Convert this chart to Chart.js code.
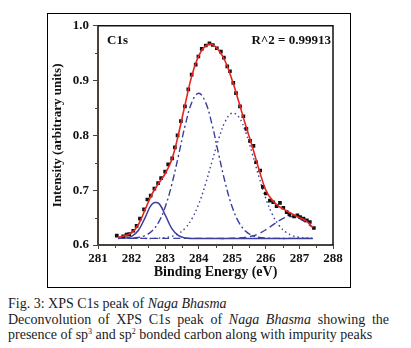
<!DOCTYPE html>
<html>
<head>
<meta charset="utf-8">
<script src="https://cdn.jsdelivr.net/npm/chart.js@4.4.1/dist/chart.umd.min.js"></script>
<style>
  body { margin: 0; background: #fff; width: 411px; height: 348px; position: relative; overflow: hidden; }
  #frame { position: absolute; left: 47px; top: 13px; width: 304px; height: 275px; border: 1px solid #000; box-sizing: border-box; }
  #frame canvas { display: block; }
  .caption { position: absolute; left: 8px; width: 381px; font-family: "Liberation Serif", "Times New Roman", serif; font-size: 14px; color: #1c1c1c; line-height: 15px; white-space: nowrap; }
  .just { white-space: normal; text-align: justify; text-align-last: justify; }
  sup { font-size: 8px; line-height: 0; vertical-align: 5px; }
</style>
</head>
<body>
<div id="frame"><canvas id="myChart" width="302" height="273"></canvas></div>
<div class="caption" style="top:296px">Fig. 3: XPS C1s peak of <i>Naga Bhasma</i></div>
<div class="caption just" style="top:312px">Deconvolution of XPS C1s peak of <i>Naga Bhasma</i> showing the</div>
<div class="caption" style="top:327px">presence of sp<sup>3</sup> and sp<sup>2</sup> bonded carbon along with impurity peaks</div>

<script>
// measured points (black squares)
const expEnergy = [281.56, 281.75, 281.85, 281.93, 282.05, 282.15, 282.25, 282.37, 282.47, 282.57,
    282.68, 282.79, 282.88, 283.00, 283.09, 283.21, 283.29, 283.37, 283.47, 283.59,
    283.69, 283.79, 283.91, 283.99, 284.09, 284.21, 284.32, 284.42, 284.54, 284.66,
    284.75, 284.85, 284.93, 285.03, 285.11, 285.23, 285.33, 285.42, 285.53, 285.63,
    285.71, 285.83, 285.91, 286.00, 286.12, 286.22, 286.32, 286.42, 286.52, 286.62,
    286.70, 286.84, 286.94, 287.02, 287.12, 287.22, 287.31, 287.43];
const expIntensity = [0.617, 0.616, 0.619, 0.620, 0.626, 0.635, 0.648, 0.665, 0.683, 0.690,
    0.703, 0.713, 0.722, 0.734, 0.747, 0.758, 0.778, 0.800, 0.826, 0.853,
    0.884, 0.911, 0.929, 0.944, 0.958, 0.964, 0.968, 0.965, 0.959, 0.953,
    0.942, 0.926, 0.917, 0.896, 0.877, 0.853, 0.835, 0.812, 0.790, 0.781,
    0.751, 0.736, 0.706, 0.694, 0.681, 0.678, 0.671, 0.677, 0.668, 0.660,
    0.656, 0.652, 0.654, 0.651, 0.648, 0.645, 0.642, 0.631];

// fitted curves, every 0.2 eV
const fitEnergy = [281.6, 281.8, 282.0, 282.2, 282.4, 282.6, 282.8, 283.0, 283.2, 283.4,
    283.6, 283.8, 284.0, 284.2, 284.4, 284.6, 284.8, 285.0, 285.2, 285.4,
    285.6, 285.8, 286.0, 286.2, 286.4, 286.6, 286.8, 287.0, 287.2, 287.4];
const envelope = [0.614, 0.617, 0.622, 0.637, 0.664, 0.692, 0.712, 0.730, 0.756, 0.803,
    0.858, 0.910, 0.945, 0.963, 0.966, 0.955, 0.934, 0.900, 0.860, 0.818,
    0.779, 0.737, 0.700, 0.681, 0.670, 0.663, 0.656, 0.650, 0.644, 0.632];
const peakA = [0.612, 0.6126, 0.6156, 0.6265, 0.6495, 0.674, 0.6765, 0.655, 0.630, 0.617,
    0.6129, 0.612, 0.612, 0.612, 0.612, 0.612, 0.612, 0.612, 0.612, 0.612,
    0.612, 0.612, 0.612, 0.612, 0.612, 0.612, 0.612, 0.612, 0.612, 0.612];
const peakB = [0.612, 0.6122, 0.6126, 0.6138, 0.6172, 0.625, 0.6409, 0.669, 0.711, 0.764,
    0.819, 0.861, 0.877, 0.861, 0.819, 0.764, 0.711, 0.669, 0.6409, 0.625,
    0.6172, 0.6138, 0.6126, 0.6122, 0.612, 0.612, 0.612, 0.612, 0.612, 0.612];
const peakC = [0.612, 0.612, 0.612, 0.612, 0.612, 0.612, 0.6125, 0.6135, 0.6158, 0.621,
    0.6308, 0.6481, 0.6747, 0.7108, 0.753, 0.7947, 0.8267, 0.8408, 0.833, 0.8058,
    0.766, 0.723, 0.6846, 0.655, 0.6351, 0.6233, 0.617, 0.614, 0.6127, 0.6122];
const peakD = [0.612, 0.612, 0.612, 0.612, 0.612, 0.612, 0.612, 0.612, 0.612, 0.612,
    0.612, 0.612, 0.612, 0.612, 0.612, 0.612, 0.612, 0.6123, 0.6128, 0.614,
    0.6165, 0.621, 0.6278, 0.6363, 0.6447, 0.6505, 0.6518, 0.6481, 0.6406, 0.632];

const xMin = 281, xMax = 288;
const yMin = 0.6, yMax = 1.0;
const fitLabel = "R^2 = 0.99913";

const blue = '#3b3e9c';
const axisColor = '#4a423d';
const fontFamily = '"Liberation Serif", "Times New Roman", serif';

function pts(xs, ys) {
    return xs.map((x, i) => ({ x: x, y: ys[i] }));
}

// short ticks halfway between the labelled ones, plus the top and right border
const boxAndMinor = {
    id: 'boxAndMinor',
    afterDraw(chart) {
        const { ctx, chartArea: a, scales: { x, y } } = chart;
        ctx.save();
        ctx.strokeStyle = axisColor;
        ctx.lineWidth = 1;
        ctx.beginPath();
        for (let v = xMin + 0.5; v < xMax; v += 1) {
            const px = Math.round(x.getPixelForValue(v)) + 0.5;
            ctx.moveTo(px, a.bottom);
            ctx.lineTo(px, a.bottom + 3);
        }
        for (let v = yMin + 0.05; v < yMax; v += 0.1) {
            const py = Math.round(y.getPixelForValue(v)) + 0.5;
            ctx.moveTo(a.left - 3, py);
            ctx.lineTo(a.left, py);
        }
        ctx.stroke();
        ctx.strokeStyle = '#111';
        ctx.lineWidth = 1.5;
        ctx.beginPath();
        ctx.moveTo(a.left, a.top);
        ctx.lineTo(a.right, a.top);
        ctx.lineTo(a.right, a.bottom);
        ctx.stroke();

        ctx.fillStyle = '#111';
        ctx.font = 'bold 13px ' + fontFamily;
        ctx.textBaseline = 'middle';
        ctx.textAlign = 'left';
        ctx.fillText('C1s', a.left + 9, a.top + 15);
        ctx.textAlign = 'right';
        ctx.fillText(fitLabel, a.right - 2, a.top + 15);
        ctx.restore();
    }
};

const lineSet = (label, ys, color, dash, width) => ({
    label: label,
    data: pts(fitEnergy, ys),
    borderColor: color,
    borderWidth: width,
    borderDash: dash,
    pointRadius: 0,
    tension: 0.4,
    fill: false
});

const config = {
    type: 'line',
    data: {
        datasets: [
            lineSet('Envelope', envelope, '#e62420', [], 1.6),
            {
                label: 'Experimental',
                data: pts(expEnergy, expIntensity),
                showLine: false,
                pointStyle: 'rect',
                pointRadius: 2.6,
                backgroundColor: '#111',
                borderColor: '#111',
                borderWidth: 0
            },
            lineSet('Peak 1', peakA, blue, [], 1.5),
            lineSet('Peak 2', peakB, blue, [7, 3, 2, 3], 1.4),
            lineSet('Peak 3', peakC, blue, [1.5, 3], 1.4),
            lineSet('Peak 4', peakD, blue, [7, 4], 1.4)
        ]
    },
    options: {
        responsive: false,
        animation: false,
        layout: { padding: { top: 9, right: 17, left: 0, bottom: 0 } },
        plugins: {
            legend: { display: false },
            tooltip: { enabled: false }
        },
        scales: {
            x: {
                type: 'linear',
                min: xMin,
                max: xMax,
                afterFit: (scale) => { scale.height = 42; },
                border: { display: true, color: axisColor, width: 2 },
                grid: { drawOnChartArea: false, drawTicks: true, tickLength: 4, color: axisColor },
                ticks: {
                    stepSize: 1,
                    padding: 2,
                    color: '#111',
                    font: { family: fontFamily, size: 13, weight: 'bold' },
                    callback: (v) => v.toFixed(0)
                },
                title: {
                    display: true,
                    text: 'Binding Energy (eV)',
                    color: '#111',
                    font: { family: fontFamily, size: 14, weight: 'bold' },
                    padding: { top: 0, bottom: 6 }
                }
            },
            y: {
                min: yMin,
                max: yMax,
                afterFit: (scale) => { scale.width = 50; },
                border: { display: true, color: axisColor, width: 2 },
                grid: { drawOnChartArea: false, drawTicks: true, tickLength: 5, color: axisColor },
                ticks: {
                    stepSize: 0.1,
                    padding: 4,
                    color: '#111',
                    font: { family: fontFamily, size: 13, weight: 'bold' },
                    callback: (v) => v.toFixed(1)
                },
                title: {
                    display: true,
                    text: 'Intensity (arbitrary units)',
                    color: '#111',
                    font: { family: fontFamily, size: 13, weight: 'bold' },
                    padding: { top: 2, bottom: 0 }
                }
            }
        }
    },
    plugins: [boxAndMinor]
};

const ctx = document.getElementById('myChart').getContext('2d');
new Chart(ctx, config);
</script>
</body>
</html>
